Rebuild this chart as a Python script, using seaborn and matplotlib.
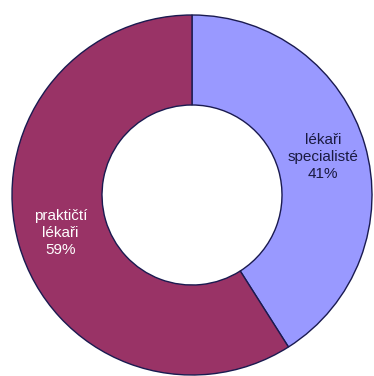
import matplotlib
matplotlib.use("Agg")
import matplotlib.pyplot as plt
import seaborn as sns
import numpy as np

categories = ["lékaři\nspecialisté", "praktičtí\nlékaři"]
values = [41, 59]
colors = ["#9999FF", "#993366"]
text_colors = ["#1a1a40", "white"]

sns.set_style("white")
plt.rcParams['font.family'] = ['Liberation Sans', 'DejaVu Sans']

fig = plt.figure(figsize=(3.74, 3.76), dpi=100)
ax = fig.add_axes([0, 0, 1, 1])
wedges, _ = ax.pie(values, colors=colors, startangle=90, counterclock=False,
                   radius=1.0,
                   wedgeprops=dict(width=0.5, edgecolor="#1a1a50", linewidth=1.0))

r_px = 180.0
cx, cy = 192.0, 195.0
ax.set_xlim(-cx / r_px, (374 - cx) / r_px)
ax.set_ylim(-(376 - cy) / r_px, cy / r_px)
ax.set_aspect('auto')
ax.axis('off')

total = sum(values)
for w, cat, v, tc in zip(wedges, categories, values, text_colors):
    ang = np.deg2rad((w.theta1 + w.theta2) / 2)
    r = 0.76
    ax.text(r * np.cos(ang), r * np.sin(ang), f"{cat}\n{round(100 * v / total)}%",
            ha="center", va="center", color=tc, fontsize=11, linespacing=1.25)

fig.savefig("out.png", dpi=100, facecolor="white")
